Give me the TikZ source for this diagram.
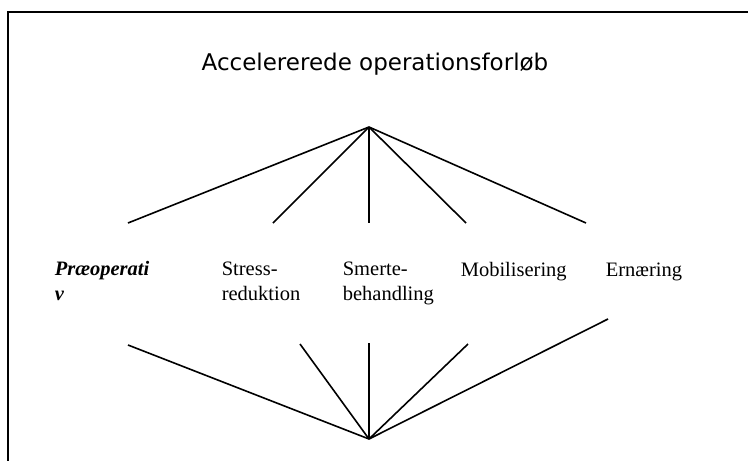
\documentclass[tikz,border=0pt]{standalone}
\usepackage{fontspec}
\setmainfont{Liberation Serif}
\newfontfamily\titlefont{DejaVu Sans}
\usetikzlibrary{positioning}

\begin{document}
\begin{tikzpicture}[x=1pt, y=-1pt, line width=1.6pt]
        \tikzset{label text/.style={anchor=base west, inner sep=0pt, align=left,
                font=\fontsize{20.5}{24.5}\selectfont}}
        \useasboundingbox (0,0) rectangle (748,461);

        % frame
        \draw (748,12) -- (8,12) -- (8,461);

        \node[anchor=base, inner sep=0pt, font=\titlefont\fontsize{23}{27}\selectfont] (title) at (375,70) {Accelererede operationsforløb};

        \coordinate (top) at (369,127);
        \coordinate (bot) at (369,439);

        \coordinate (u1) at (128,223);
        \coordinate (u2) at (273,223);
        \coordinate (u3) at (369,223);
        \coordinate (u4) at (466,223);
        \coordinate (u5) at (586,223);

        \coordinate (l1) at (128,345);
        \coordinate (l2) at (300,344);
        \coordinate (l3) at (369,343);
        \coordinate (l4) at (468,344);
        \coordinate (l5) at (608,319);

        % two-line nodes sit on the baseline of their last line
        \node[label text, font=\fontsize{20.5}{24.5}\selectfont\bfseries\itshape] (preop) at (54,300) {Præoperati\\v};
        \node[label text] (stress) at (221,300) {Stress-\\reduktion};
        \node[label text] (smerte) at (342,300) {Smerte-\\behandling};
        \node[label text] (mobil) at (460,276) {Mobilisering};
        \node[label text] (ernaer) at (605,276) {Ernæring};

        \foreach \i in {1,...,5}{
            \draw (top) -- (u\i);
            \draw (l\i) -- (bot);
        }
    \end{tikzpicture}
\end{document}
